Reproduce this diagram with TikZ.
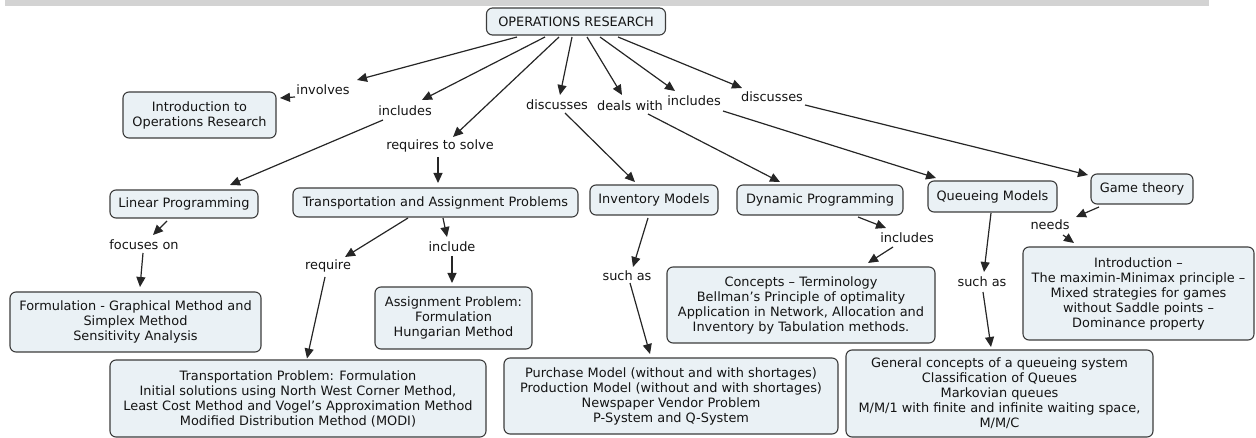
\documentclass[tikz,border=0pt]{standalone}
\usepackage{fontspec}
\setmainfont{DejaVu Sans}
\usetikzlibrary{arrows.meta,calc}
\definecolor{boxfill}{RGB}{234,241,245}
\definecolor{boxdraw}{RGB}{60,60,60}
\definecolor{txt}{RGB}{20,20,20}
\definecolor{barcol}{RGB}{211,211,211}
\begin{document}
\begin{tikzpicture}[x=1pt,y=-1pt,
  concept/.style={draw=boxdraw, fill=boxfill, line width=1.1pt, rounded corners=6pt,
    align=center, inner sep=0pt, font=\fontsize{12.9}{15}\selectfont, text=txt},
  linkph/.style={font=\fontsize{12.9}{15}\selectfont, text=txt, inner sep=1pt},
  conn/.style={draw=black!85, line width=1.2pt, -{Triangle[length=10pt,width=9pt]}}]
\useasboundingbox (0,0) rectangle (1256,438);
\fill[barcol] (5,0) rectangle (1209,6);

% concepts
\node[concept, minimum width=179pt, minimum height=27pt] (or) at (576,21.5) {OPERATIONS RESEARCH};
\node[concept, minimum width=153pt, minimum height=46pt] (intro) at (199.5,115) {Introduction to\\Operations Research};
\node[concept, minimum width=148pt, minimum height=28pt] (lp) at (184,204) {Linear Programming};
\node[concept, minimum width=285pt, minimum height=29pt] (tap) at (435.5,202.5) {Transportation and Assignment Problems};
\node[concept, minimum width=128pt, minimum height=30pt] (inv) at (654,200) {Inventory Models};
\node[concept, minimum width=166pt, minimum height=30pt] (dp) at (820,200) {Dynamic Programming};
\node[concept, minimum width=129pt, minimum height=31pt] (qm) at (992.5,196.5) {Queueing Models};
\node[concept, minimum width=102pt, minimum height=30pt] (gt) at (1142,189) {Game theory};
\node[concept, minimum width=251pt, minimum height=60pt] (form) at (135.5,322) {Formulation - Graphical Method and\\Simplex Method\\Sensitivity Analysis};
\node[concept, minimum width=157pt, minimum height=62pt] (asg) at (453.5,318) {Assignment Problem:\\Formulation\\Hungarian Method};
\node[concept, minimum width=376pt, minimum height=77pt] (tp) at (298,398.5) {Transportation Problem: Formulation\\Initial solutions using North West Corner Method,\\Least Cost Method and Vogel’s Approximation Method\\Modified Distribution Method (MODI)};
\node[concept, minimum width=268pt, minimum height=76pt] (con) at (801,305) {Concepts – Terminology\\Bellman’s Principle of optimality\\Application in Network, Allocation and\\Inventory by Tabulation methods.};
\node[concept, minimum width=334pt, minimum height=76pt] (pur) at (671,396) {Purchase Model (without and with shortages)\\Production Model (without and with shortages)\\Newspaper Vendor Problem\\P-System and Q-System};
\node[concept, minimum width=231pt, minimum height=93pt] (gi) at (1138.5,293.5) {Introduction –\\The maximin-Minimax principle –\\Mixed strategies for games\\without Saddle points –\\Dominance property};
\node[concept, minimum width=307pt, minimum height=87pt] (qg) at (999.5,393.5) {General concepts of a queueing system\\Classification of Queues\\Markovian queues\\M/M/1 with finite and infinite waiting space,\\M/M/C};

% linking phrases
\node[linkph] (linv) at (323,90) {involves};
\node[linkph] (linca) at (405,111) {includes};
\node[linkph] (lreq) at (440,146) {requires to solve};
\node[linkph] (ldisa) at (557,105) {discusses};
\node[linkph] (ldeal) at (630,106) {deals with};
\node[linkph] (lincb) at (694,101) {includes};
\node[linkph] (ldisb) at (772,97) {discusses};
\node[linkph] (lfoc) at (144,245) {focuses on};
\node[linkph] (lrq) at (328,266) {require};
\node[linkph] (lincl) at (452,247) {include};
\node[linkph] (lsucha) at (627,276) {such as};
\node[linkph] (lincc) at (907,238) {includes};
\node[linkph] (lsuchb) at (982,282) {such as};
\node[linkph] (lneed) at (1050,225) {needs};

% connectors
\draw[conn] ($(or)+(-59,15.5)$) -- ($(linv)+(34,-10)$);
\draw[conn] ($(linv)+(-28,7)$) -- ($(intro)+(80.5,-17)$);
\draw[conn] ($(or)+(-31,15.5)$) -- ($(linca)+(17,-11)$);
\draw[conn] ($(linca)+(-22,9)$) -- ($(lp)+(46,-19)$);
\draw[conn] ($(or)+(-17,15.5)$) -- ($(lreq)+(13,-9)$);
\draw[conn] ($(lreq)+(-2,11)$) -- ($(tap)+(2.5,-19.5)$);
\draw[conn] ($(or)+(-4,15.5)$) -- ($(ldisa)+(3,-10)$);
\draw[conn] ($(ldisa)+(8,8)$) -- ($(inv)+(-19,-18)$);
\draw[conn] ($(or)+(11,15.5)$) -- ($(ldeal)+(-8,-11)$);
\draw[conn] ($(ldeal)+(18,8)$) -- ($(dp)+(-40,-18)$);
\draw[conn] ($(or)+(24,15.5)$) -- ($(lincb)+(-19,-10)$);
\draw[conn] ($(lincb)+(29,10)$) -- ($(qm)+(-56.5,-18.5)$);
\draw[conn] ($(or)+(42,15.5)$) -- ($(ldisb)+(-30,-9)$);
\draw[conn] ($(ldisb)+(33,8)$) -- ($(gt)+(-54,-14)$);
\draw[conn] ($(lp)+(-17,17)$) -- ($(lfoc)+(9,-10)$);
\draw[conn] ($(lfoc)+(-1,8)$) -- ($(form)+(4.5,-35)$);
\draw[conn] ($(tap)+(-27.5,15.5)$) -- ($(lrq)+(17,-9)$);
\draw[conn] ($(lrq)+(-3,11)$) -- ($(tp)+(9,-40)$);
\draw[conn] ($(tap)+(7.5,15.5)$) -- ($(lincl)+(-5,-10)$);
\draw[conn] ($(lincl)+(0,9)$) -- ($(asg)+(-1.5,-35)$);
\draw[conn] ($(inv)+(-6,18)$) -- ($(lsucha)+(6,-9)$);
\draw[conn] ($(lsucha)+(3,7)$) -- ($(pur)+(-21,-42)$);
\draw[conn] ($(dp)+(38,17)$) -- ($(lincc)+(-21,-10)$);
\draw[conn] ($(lincc)+(-14,9)$) -- ($(con)+(67,-42)$);
\draw[conn] ($(qm)+(-1.5,16.5)$) -- ($(lsuchb)+(2,-10)$);
\draw[conn] ($(lsuchb)+(1,10)$) -- ($(qg)+(-8.5,-46.5)$);
\draw[conn] ($(gt)+(-43,18)$) -- ($(lneed)+(26,-8)$);
\draw[conn] ($(lneed)+(13,10)$) -- ($(gi)+(-64.5,-50.5)$);
\end{tikzpicture}
\end{document}
